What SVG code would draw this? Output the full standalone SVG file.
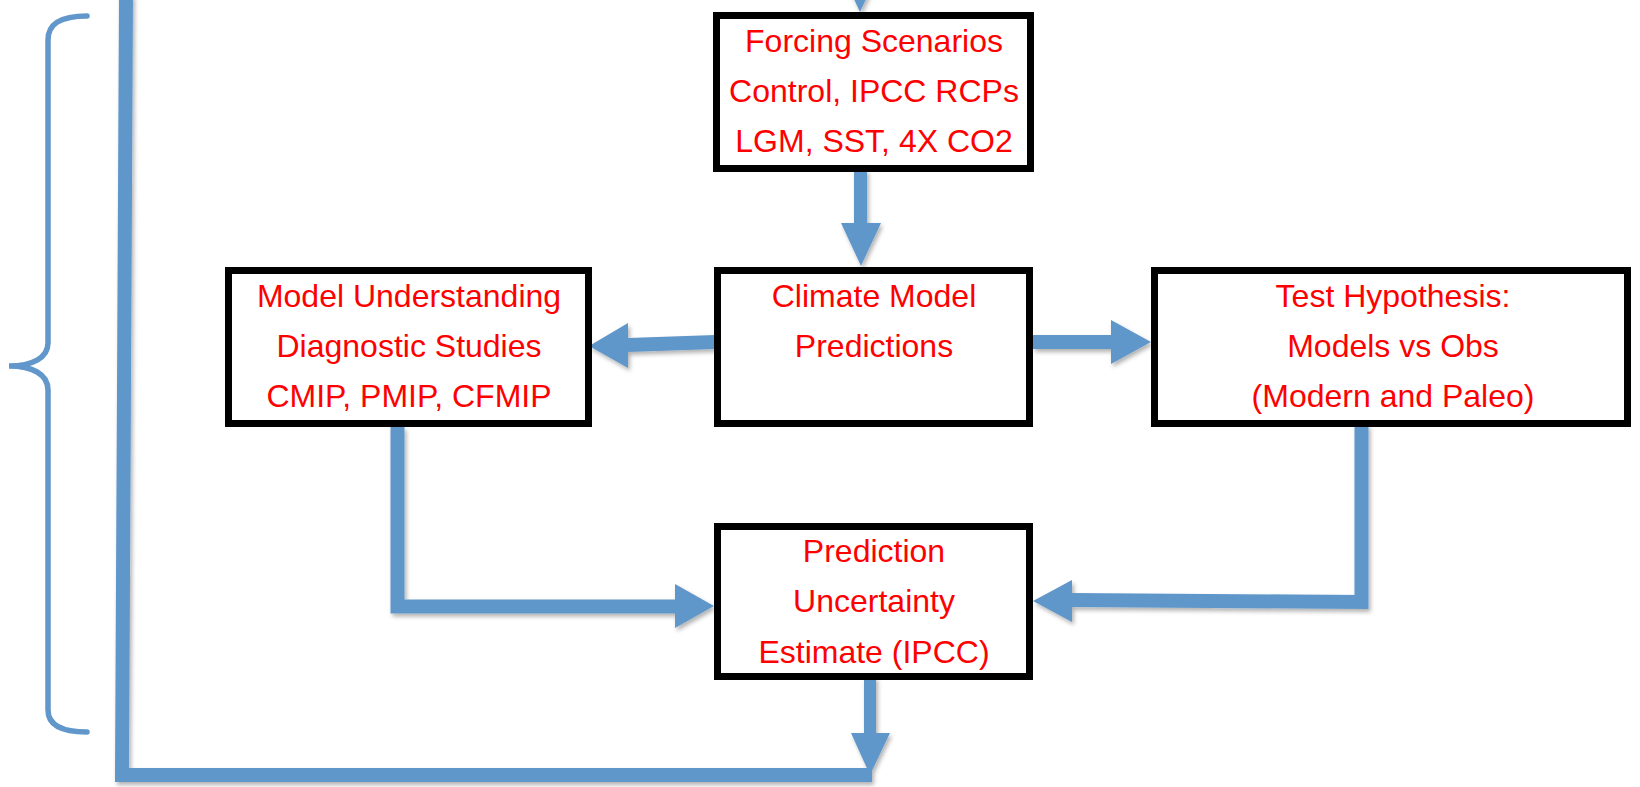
<svg xmlns="http://www.w3.org/2000/svg" width="1640" height="787" viewBox="0 0 1640 787">
<defs>
<filter id="sh" x="-20%" y="-20%" width="140%" height="140%">
<feDropShadow dx="2" dy="3" stdDeviation="2" flood-color="#000" flood-opacity="0.3"/>
</filter>
<style>
.box{fill:#fff;stroke:#000;stroke-width:7}
.t{font-family:"Liberation Sans",Arial,sans-serif;font-size:32px;fill:#ff0000;text-anchor:middle}
.ar{fill:#6197ca}
.ln{fill:none;stroke:#6197ca;stroke-width:14}
.brace{fill:none;stroke:#6197ca;stroke-width:5.5;stroke-linecap:round}
</style>
</defs>
<rect width="1640" height="787" fill="#fff"/>
<g id="connectors" filter="url(#sh)">
<polygon class="ar" points="840,-31 880,-31 860,12"/>
<polygon class="ar" points="854,170 867,170 867,223 881,223 861,266 841,223 854,223"/>
<polygon class="ar" points="715,335 715,349 628,352 628,368 589,346 628,323 628,338"/>
<polygon class="ar" points="1033,335 1111,335 1111,320 1151,342 1111,364 1111,349 1033,349"/>
<polyline class="ln" points="397.5,427 397.5,606.5 676,606.5"/>
<polygon class="ar" points="675,584 714,606 675,628"/>
<polyline class="ln" points="1361.5,425 1361.5,602 1071,600"/>
<polygon class="ar" points="1072,580 1072,622 1033,601"/>
<polygon class="ar" points="864,677 876,677 876,733 890,733 870,775 851,733 864,733"/>
<polyline class="ln" points="126,-5 122,775 872,775" stroke-linejoin="miter"/>
</g>
<g id="brace">
<path class="brace" d="M87,16 C60,16 48,24 48,40 L48,343 C48,358 32,366 9,366 C32,366 48,374 48,390 L48,710 C48,724 60,732 87,732"/>
</g>
<g id="forcing">
<rect class="box" x="716.5" y="15.5" width="314" height="153"/>
<text class="t" x="874" y="52">Forcing Scenarios</text>
<text class="t" x="874" y="102">Control, IPCC RCPs</text>
<text class="t" x="874" y="152">LGM, SST, 4X CO2</text>
</g>
<g id="climate">
<rect class="box" x="717.5" y="270.5" width="312" height="153"/>
<text class="t" x="874" y="307">Climate Model</text>
<text class="t" x="874" y="357">Predictions</text>
</g>
<g id="understanding">
<rect class="box" x="228.5" y="270.5" width="360" height="153"/>
<text class="t" x="409" y="307">Model Understanding</text>
<text class="t" x="409" y="357">Diagnostic Studies</text>
<text class="t" x="409" y="407">CMIP, PMIP, CFMIP</text>
</g>
<g id="test">
<rect class="box" x="1154.5" y="270.5" width="473" height="153"/>
<text class="t" x="1393" y="307">Test Hypothesis:</text>
<text class="t" x="1393" y="357">Models vs Obs</text>
<text class="t" x="1393" y="407">(Modern and Paleo)</text>
</g>
<g id="prediction">
<rect class="box" x="717.5" y="526.5" width="312" height="150"/>
<text class="t" x="874" y="562">Prediction</text>
<text class="t" x="874" y="612">Uncertainty</text>
<text class="t" x="874" y="663">Estimate (IPCC)</text>
</g>
</svg>
